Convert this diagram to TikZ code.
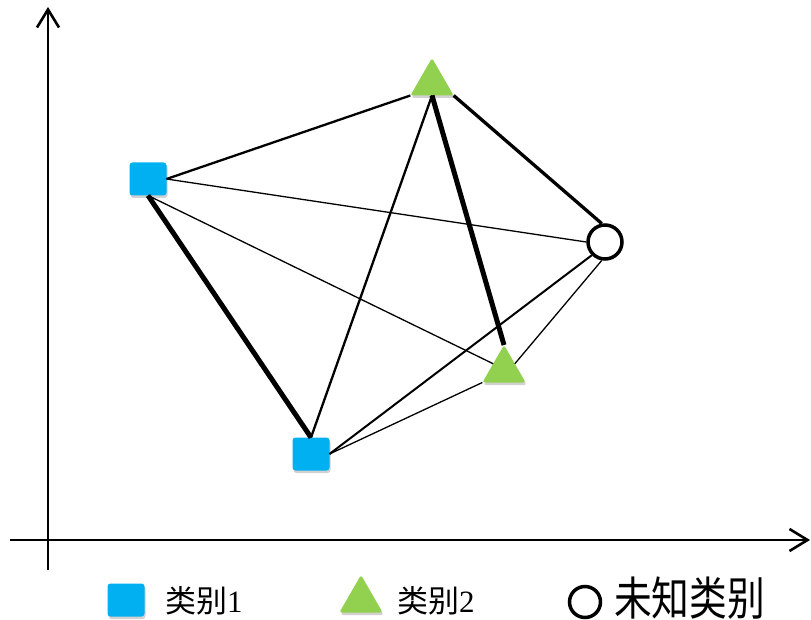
\documentclass[tikz,border=0pt]{standalone}
\usepackage{fontspec}
\setmainfont{Liberation Serif}
\newfontfamily\cjk{Noto Sans CJK SC}
\newfontfamily\cjkB[FakeStretch=0.82]{Noto Sans CJK SC}
\usetikzlibrary{shapes.geometric,arrows.meta,shadows}
\definecolor{sqblue}{HTML}{00B0F0}
\definecolor{trigreen}{HTML}{92D050}
\begin{document}
\begin{tikzpicture}[x=1pt,y=-1pt,
  shd/.style={drop shadow={shadow xshift=1pt,shadow yshift=-2.5pt,opacity=0.18,fill=black}},
  sq/.style={rectangle,rounded corners=3pt,fill=sqblue,minimum width=37pt,minimum height=33pt,inner sep=0pt,outer sep=0pt,shd},
  tri/.style={regular polygon,regular polygon sides=3,minimum size=50pt,inner sep=0pt,outer sep=0pt,fill=trigreen,rounded corners=2.5pt,shd},
  unk/.style={circle,draw=black,line width=3.5pt,minimum size=34pt,inner sep=0pt,fill=white},
  wA/.style={line width=1.3pt},
  wB/.style={line width=2.3pt},
  wC/.style={line width=3.3pt},
  wD/.style={line width=5pt},
  axis/.style={line width=2.6pt,-{Straight Barb[length=18pt,width=22pt]}},
  lab/.style={anchor=west,inner sep=0pt,outer sep=0pt}]
\useasboundingbox (0,0) rectangle (811,620);
% axes
\coordinate (yb) at (48,570);
\coordinate (yt) at (48,7);
\coordinate (xl) at (10,540);
\coordinate (xr) at (810,540);
\draw[axis] (yb) -- (yt);
\draw[axis] (xl) -- (xr);
% shapes
\node[sq] (s1) at (148,179) {};
\node[sq] (s2) at (311,454) {};
\node[tri] (t1) at (432,83) {};
\node[tri] (t2) at (504,370) {};
\node[unk] (c) at (605,242) {};
% connectors
\draw[wB] (s1.east) -- (t1.corner 2);
\draw[wA] (s1.east) -- (c.west);
\draw[wA] (s1.south) -- (t2.side 1);
\draw[wD] (s1.south) -- (s2.north);
\draw[wB] (t1.side 2) -- (s2.north);
\draw[wD] (t1.side 2) -- (t2.corner 1);
\draw[wC] (t1.corner 3) -- (c.100);
\draw[line width=2pt] (c.south west) -- (s2.east);
\draw[wA] (c.260) -- (t2.side 3);
\draw[wA] (s2.east) -- (t2.corner 2);
% legend
\node[sq] (ls) at (126,600) {};
\node[lab] (l1) at (165,601) {\fontsize{31}{38}\selectfont{\cjk 类别}1};
\node[tri] (lt) at (361,600) {};
\node[lab] (l2) at (397,601) {\fontsize{31}{38}\selectfont{\cjk 类别}2};
\node[unk,minimum size=31pt] (lc) at (585,602) {};
\node[lab] (l3) at (614,598) {\fontsize{46}{52}\selectfont\cjkB 未知类别};
\end{tikzpicture}
\end{document}
